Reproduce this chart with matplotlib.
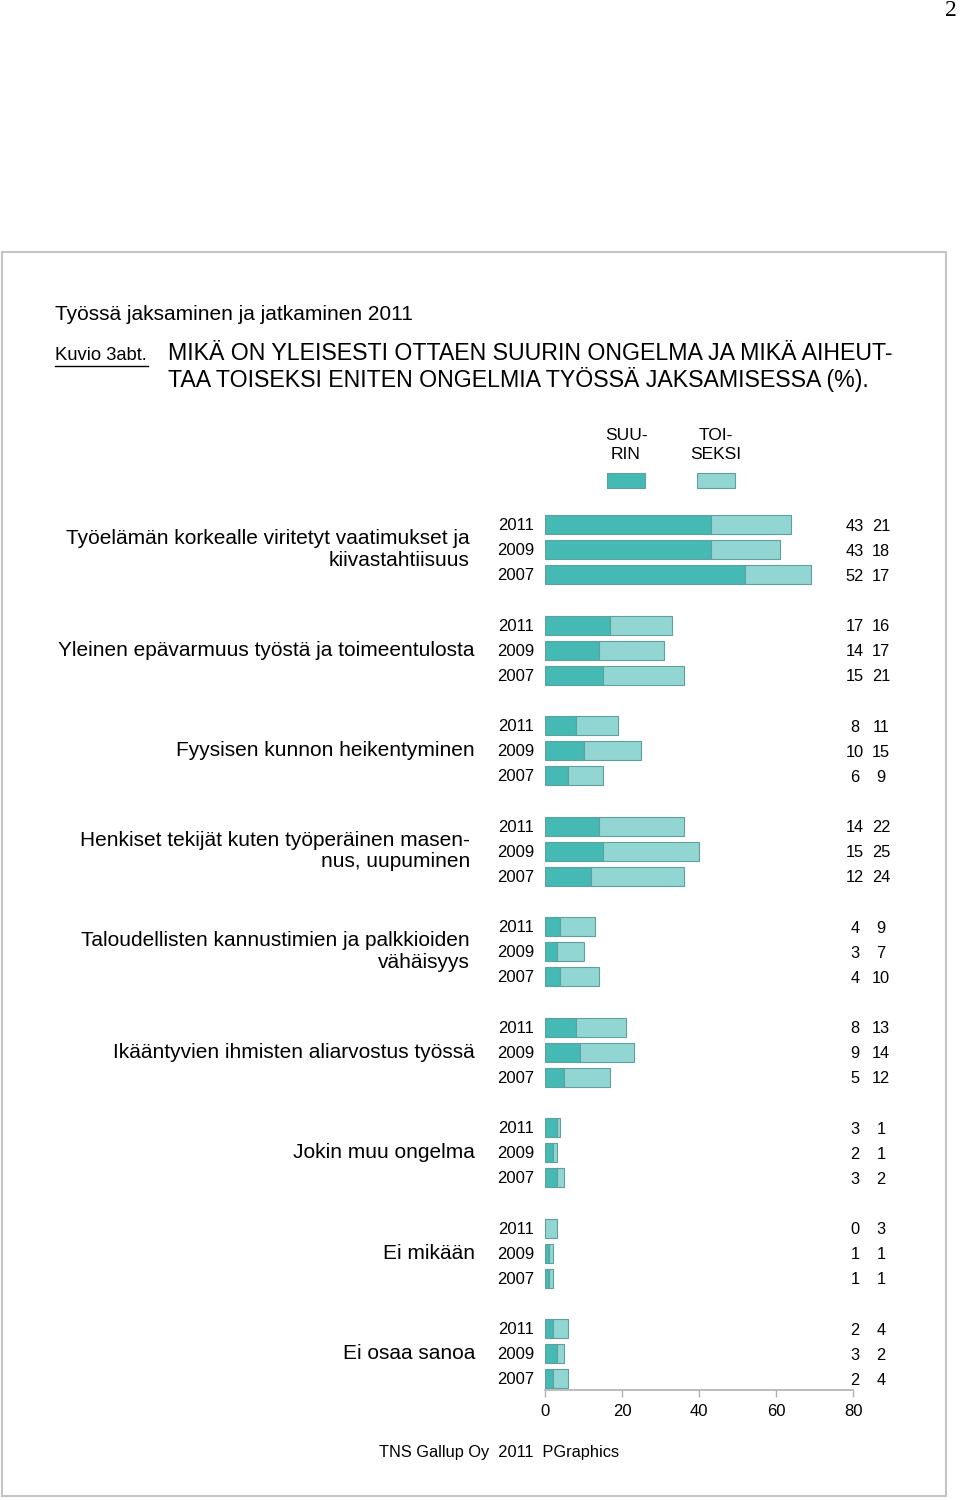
import matplotlib
matplotlib.use("Agg")
import matplotlib.pyplot as plt
from matplotlib.patches import Rectangle
from matplotlib.lines import Line2D
import numpy as np

categories = [
    "Työelämän korkealle viritetyt vaatimukset ja\nkiivastahtiisuus",
    "Yleinen epävarmuus työstä ja toimeentulosta",
    "Fyysisen kunnon heikentyminen",
    "Henkiset tekijät kuten työperäinen masen-\nnus, uupuminen",
    "Taloudellisten kannustimien ja palkkioiden\nvähäisyys",
    "Ikääntyvien ihmisten aliarvostus työssä",
    "Jokin muu ongelma",
    "Ei mikään",
    "Ei osaa sanoa",
]
years = ["2011", "2009", "2007"]
# SUURIN (largest problem) per category, years 2011, 2009, 2007
suurin = [
    [43, 43, 52],
    [17, 14, 15],
    [8, 10, 6],
    [14, 15, 12],
    [4, 3, 4],
    [8, 9, 5],
    [3, 2, 3],
    [0, 1, 1],
    [2, 3, 2],
]
# TOISEKSI (second largest) per category
toiseksi = [
    [21, 18, 17],
    [16, 17, 21],
    [11, 15, 9],
    [22, 25, 24],
    [9, 7, 10],
    [13, 14, 12],
    [1, 1, 2],
    [3, 1, 1],
    [4, 2, 4],
]
x_ticks = [0, 20, 40, 60, 80]
legend_labels = ["SUU-\nRIN", "TOI-\nSEKSI"]
page_title = "Työssä jaksaminen ja jatkaminen 2011"
fig_label = "Kuvio 3abt."
main_title = "MIKÄ ON YLEISESTI OTTAEN SUURIN ONGELMA JA MIKÄ AIHEUT-\nTAA TOISEKSI ENITEN ONGELMIA TYÖSSÄ JAKSAMISESSA (%)."
footer = "TNS Gallup Oy  2011  PGraphics"

C_DARK = "#45b9b4"
C_LIGHT = "#92d6d3"
C_EDGE = "#5f9f9c"

W, H = 960, 1500
fig = plt.figure(figsize=(W / 100, H / 100), dpi=100)
fig.patch.set_facecolor("white")

SANS = ["Liberation Sans", "DejaVu Sans"]


def fx(x):
    return x / W


def fy(y):
    return 1 - y / H


# border
fig.add_artist(Rectangle((fx(2), fy(1496)), fx(944), (1496 - 252) / H,
                         transform=fig.transFigure, fill=False,
                         edgecolor="#c4c4c4", linewidth=1.5))
# page number
fig.text(fx(957), fy(10), "2", ha="right", va="center", fontsize=17,
         family=["Liberation Serif", "DejaVu Serif"])

# header
fig.text(fx(55), fy(314), page_title, ha="left", va="center", fontsize=15, family=SANS)
fig.text(fx(55), fy(356), fig_label, ha="left", va="center", fontsize=13.2, family=SANS)
fig.add_artist(Line2D([fx(55), fx(148)], [fy(366), fy(366)], transform=fig.transFigure,
                      color="black", linewidth=1))
fig.text(fx(168), fy(367), main_title, ha="left", va="center", fontsize=16.7,
         family=SANS, linespacing=1.1)

# legend
for i, (lab, col) in enumerate(zip(legend_labels, [C_DARK, C_LIGHT])):
    cx = 626 + i * 90
    fig.text(fx(cx), fy(445), lab, ha="center", va="center", fontsize=12.5,
             family=SANS, linespacing=1.35)
    fig.add_artist(Rectangle((fx(cx - 19), fy(488)), 38 / W, 15 / H,
                             transform=fig.transFigure, facecolor=col,
                             edgecolor=C_EDGE, linewidth=0.8))

# main axes: x 0..80 maps to pixels 545..853, bottom axis line at y=1390
ax_top, ax_bot = 500, 1390
ax = fig.add_axes([fx(545), 1 - ax_bot / H, (853 - 545) / W, (ax_bot - ax_top) / H])
row_px = 25.125
ax.set_xlim(0, 80)
y_top = -(524.5 - ax_top) / row_px
y_bot = y_top + (ax_bot - ax_top) / row_px
ax.set_ylim(y_bot, y_top)

bar_h = 19 / row_px
for g, cat in enumerate(categories):
    for k, yr in enumerate(years):
        y = g * 4 + k
        s = suurin[g][k]
        t = toiseksi[g][k]
        ax.barh(y, s, height=bar_h, left=0, color=C_DARK, edgecolor=C_EDGE, linewidth=0.8)
        ax.barh(y, t, height=bar_h, left=s, color=C_LIGHT, edgecolor=C_EDGE, linewidth=0.8)
        ax.text(-2.85, y + 0.04, yr, ha="right", va="center", fontsize=12, family=SANS, clip_on=False)
        ax.text(80.5, y + 0.06, str(s), ha="center", va="center", fontsize=11.8, family=SANS, clip_on=False)
        ax.text(87.3, y + 0.06, str(t), ha="center", va="center", fontsize=11.8, family=SANS, clip_on=False)
    xr = -18.2 if "\n" not in cat else -19.5
    ax.text(xr, g * 4 + 1, cat, ha="right", va="center", fontsize=15, family=SANS,
            linespacing=1.18, clip_on=False)

for side in ["top", "right", "left"]:
    ax.spines[side].set_visible(False)
ax.spines["bottom"].set_color("#b0b0b0")
ax.spines["bottom"].set_linewidth(1.2)
ax.set_yticks([])
ax.set_xticks(x_ticks)
ax.set_xticklabels([str(v) for v in x_ticks], fontsize=12, family=SANS)
ax.tick_params(axis="x", direction="out", length=5, width=1, color="#b0b0b0", pad=5)
ax.patch.set_alpha(0)

fig.text(fx(499), fy(1453), footer, ha="center", va="center", fontsize=11.8, family=SANS)

fig.savefig("out.png", dpi=100)
